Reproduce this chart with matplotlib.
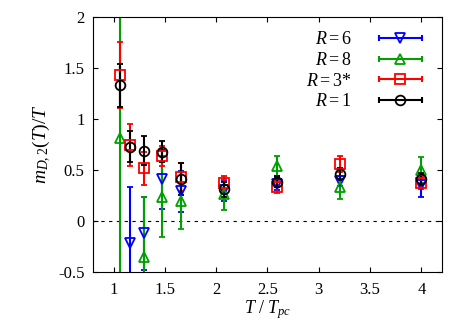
import matplotlib
matplotlib.use("Agg")
import matplotlib.pyplot as plt
from matplotlib.lines import Line2D
from matplotlib.legend_handler import HandlerLine2D, HandlerTuple

plt.rcParams['font.family'] = 'Liberation Serif'
plt.rcParams['mathtext.fontset'] = 'custom'
plt.rcParams['mathtext.rm'] = 'Liberation Serif'
plt.rcParams['mathtext.it'] = 'Liberation Serif:italic'
plt.rcParams['axes.unicode_minus'] = False

# R = 6
t_r6 = [1.16, 1.30, 1.47, 1.66, 2.08, 2.59, 3.21, 4.0]
m_r6 = [-0.22, -0.12, 0.41, 0.29, 0.30, 0.36, 0.39, 0.35]
e_r6 = [0.55, 0.36, 0.29, 0.20, 0.10, 0.06, 0.05, 0.11]

# R = 8
t_r8 = [1.06, 1.30, 1.47, 1.66, 2.08, 2.59, 3.21, 4.0]
m_r8 = [0.81, -0.35, 0.24, 0.20, 0.26, 0.54, 0.33, 0.50]
e_r8 = [1.5, 0.59, 0.40, 0.28, 0.15, 0.10, 0.11, 0.13]

# R = 3*
t_r3 = [1.06, 1.16, 1.30, 1.47, 1.66, 2.08, 2.59, 3.21, 4.0]
m_r3 = [1.43, 0.745, 0.515, 0.635, 0.43, 0.375, 0.335, 0.56, 0.37]
e_r3 = [0.32, 0.21, 0.16, 0.10, 0.14, 0.07, 0.065, 0.08, 0.06]

# R = 1
t_r1 = [1.06, 1.16, 1.30, 1.47, 1.66, 2.08, 2.59, 3.21, 4.0]
m_r1 = [1.33, 0.73, 0.69, 0.68, 0.41, 0.31, 0.385, 0.46, 0.41]
e_r1 = [0.21, 0.15, 0.145, 0.10, 0.155, 0.075, 0.055, 0.055, 0.06]

series = [
    (t_r6, m_r6, e_r6, 'v', '#0000ff', r'$R = 6$'),
    (t_r8, m_r8, e_r8, '^', '#00a000', r'$R = 8$'),
    (t_r3, m_r3, e_r3, 's', '#ff0000', r'$R = 3$*'),
    (t_r1, m_r1, e_r1, 'o', '#000000', r'$R = 1$'),
]

fig = plt.figure(figsize=(4.58, 3.2), dpi=100)
ax = fig.add_axes([0.203, 0.15, 0.762, 0.797])

ax.axhline(0, color='black', lw=0.8, ls=(0, (3, 4)))

handles, labels, hmap = [], [], {}
for t, m, e, mk, col, lab in series:
    ax.errorbar(t, m, yerr=e, fmt=mk, color=col, mfc='none', mec=col,
                ms=7, mew=1.3, elinewidth=1.5, capsize=2, capthick=1.5)
    # gnuplot style key: horizontal bar with end caps and marker in the middle
    bar = Line2D([], [], color=col, lw=1.5, marker='|', ms=5, mew=1.5)
    mark = Line2D([], [], ls='none', marker=mk, mfc='none', mec=col,
                  ms=7, mew=1.3)
    hmap[bar] = HandlerLine2D(numpoints=2)
    hmap[mark] = HandlerLine2D(numpoints=1)
    handles.append((bar, mark))
    labels.append(lab)

ax.set_xlim(0.8, 4.2)
ax.set_ylim(-0.5, 2)
ax.set_xticks([1, 1.5, 2, 2.5, 3, 3.5, 4])
ax.set_xticklabels(['1', '1.5', '2', '2.5', '3', '3.5', '4'])
ax.set_yticks([-0.5, 0, 0.5, 1, 1.5, 2])
ax.set_yticklabels(['-0.5', '0', '0.5', '1', '1.5', '2'])
ax.tick_params(direction='in', top=True, right=True, labelsize=12)
ax.tick_params(axis='x', pad=7)
ax.tick_params(axis='y', pad=6)

ax.set_xlabel(r'$T\ /\ T_{pc}$', fontsize=13, labelpad=0)
ax.set_ylabel(r'$m_{D,2}(T)/T$', fontsize=14, labelpad=4)

hmap[tuple] = HandlerTuple(ndivide=1, pad=0)
ax.legend(handles, labels, handler_map=hmap, loc='upper right',
          frameon=False, markerfirst=False, fontsize=13,
          handlelength=3.0, handletextpad=1.2, labelspacing=0.2,
          borderaxespad=0.4)

fig.savefig('out.png', dpi=100)
